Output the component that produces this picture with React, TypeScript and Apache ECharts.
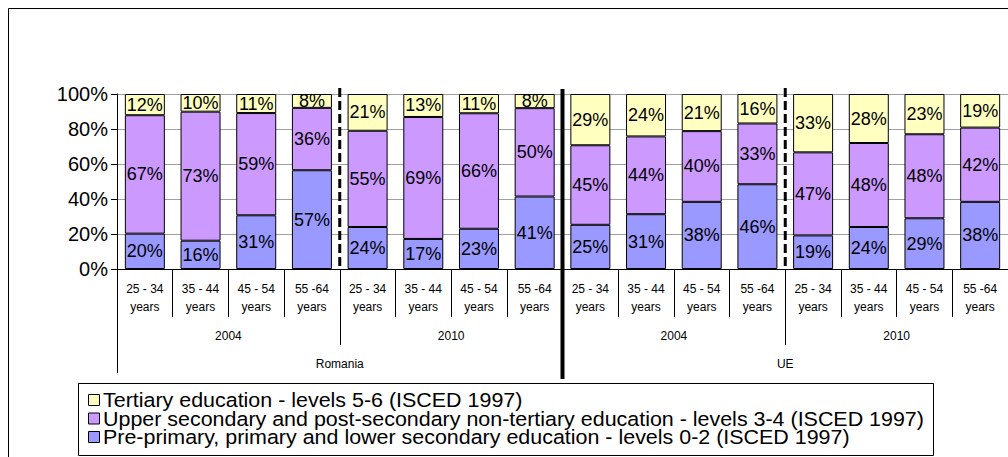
import React, { useEffect, useRef } from "react";
import * as echarts from "echarts";

// Age groups along the bottom axis (four per year block)
const ageLabels = [
  "25 - 34\nyears", "35 - 44\nyears", "45 - 54\nyears", "55 -64\nyears",
  "25 - 34\nyears", "35 - 44\nyears", "45 - 54\nyears", "55 -64\nyears",
  "25 - 34\nyears", "35 - 44\nyears", "45 - 54\nyears", "55 -64\nyears",
  "25 - 34\nyears", "35 - 44\nyears", "45 - 54\nyears", "55 -64\nyears",
];
const yearLabels = ["2004", "2010", "2004", "2010"];
const regionLabels = ["Romania", "UE"];

// Educational attainment shares (%), per age group
const tertiary = [12, 10, 11, 8, 21, 13, 11, 8, 29, 24, 21, 16, 33, 28, 23, 19];
const upperSecondary = [67, 73, 59, 36, 55, 69, 66, 50, 45, 44, 40, 33, 47, 48, 48, 42];
const lowerSecondary = [20, 16, 31, 57, 24, 17, 23, 41, 25, 31, 38, 46, 19, 24, 29, 38];

const yTicks = [0, 20, 40, 60, 80, 100];

const NAME_TERTIARY = "Tertiary education - levels 5-6 (ISCED 1997)";
const NAME_UPPER =
  "Upper secondary and post-secondary non-tertiary education - levels 3-4 (ISCED 1997)";
const NAME_LOWER =
  "Pre-primary, primary and lower secondary education - levels 0-2 (ISCED 1997)";

const COLOR_TERTIARY = "#FFFFC0";
const COLOR_UPPER = "#CC99FF";
const COLOR_LOWER = "#9999FF";

const FONT = "'Liberation Sans', Arial, sans-serif";

export default function App() {
  const ref = useRef<HTMLDivElement>(null);

  useEffect(() => {
    if (!ref.current) return;
    const chart = echarts.init(ref.current, undefined, { renderer: "svg" });

    // 100% stacked: each column is scaled by its own total
    const totals = tertiary.map((t, i) => t + upperSecondary[i] + lowerSecondary[i]);

    const makeSeries = (name: string, values: number[], color: string) => ({
      name,
      type: "bar",
      stack: "education",
      barWidth: 40,
      xAxisIndex: 0,
      data: values.map((v, i) => (v / totals[i]) * 100),
      itemStyle: { color, borderColor: "#000", borderWidth: 1 },
      label: {
        show: true,
        position: "inside",
        color: "#000",
        fontSize: 18,
        fontFamily: FONT,
        formatter: (p: any) => `${values[p.dataIndex]}%`,
      },
    });

    const axisBase = {
      type: "category",
      position: "bottom",
      gridIndex: 0,
      splitLine: { show: false },
    };

    chart.setOption({
      animation: false,
      backgroundColor: "#fff",
      grid: { left: 117, right: 0, top: 94, bottom: 188, containLabel: false },
      xAxis: [
        {
          ...axisBase,
          data: ageLabels,
          axisLine: { show: true, lineStyle: { color: "#000", width: 1 } },
          axisTick: { show: true, length: 48, lineStyle: { color: "#000" } },
          axisLabel: {
            interval: 0,
            margin: 11,
            fontSize: 12,
            lineHeight: 18,
            color: "#000",
            fontFamily: FONT,
          },
        },
        {
          ...axisBase,
          data: yearLabels,
          axisLine: { show: false },
          axisTick: { show: true, length: 76, lineStyle: { color: "#000" } },
          axisLabel: { interval: 0, margin: 61, fontSize: 12, color: "#000", fontFamily: FONT },
        },
        {
          ...axisBase,
          data: regionLabels,
          axisLine: { show: false },
          axisTick: { show: true, length: 104, lineStyle: { color: "#000" } },
          axisLabel: { interval: 0, margin: 89, fontSize: 12, color: "#000", fontFamily: FONT },
        },
      ],
      yAxis: {
        type: "value",
        min: yTicks[0],
        max: yTicks[yTicks.length - 1],
        interval: yTicks[1] - yTicks[0],
        axisLine: { show: true, lineStyle: { color: "#000", width: 1 } },
        axisTick: { show: true, length: 6, lineStyle: { color: "#000" } },
        axisLabel: {
          formatter: "{value}%",
          fontSize: 20,
          margin: 9,
          color: "#000",
          fontFamily: FONT,
        },
        splitLine: { show: true, lineStyle: { color: "#a0a0a0", width: 1 } },
      },
      series: [
        makeSeries(NAME_LOWER, lowerSecondary, COLOR_LOWER),
        makeSeries(NAME_UPPER, upperSecondary, COLOR_UPPER),
        makeSeries(NAME_TERTIARY, tertiary, COLOR_TERTIARY),
      ],
    });

    // Block separators sit between the 4th/5th, 8th/9th and 12th/13th columns
    const boundaryX = (k: number) => {
      const a = chart.convertToPixel({ xAxisIndex: 0 }, k - 1) as number;
      const b = chart.convertToPixel({ xAxisIndex: 0 }, k) as number;
      return (a + b) / 2;
    };
    const yTop = chart.convertToPixel({ yAxisIndex: 0 }, 100) as number;
    const yZero = chart.convertToPixel({ yAxisIndex: 0 }, 0) as number;

    const dashed = (x: number) => ({
      type: "line",
      silent: true,
      z: 50,
      shape: { x1: x, y1: yTop - 6, x2: x, y2: yZero },
      style: { stroke: "#000", lineWidth: 3, lineDash: [9, 4] },
    });

    const xMid = boundaryX(8);

    // Boxed legend with wide, tightly stacked entries
    const legendEntries = [
      { name: NAME_TERTIARY, color: COLOR_TERTIARY },
      { name: NAME_UPPER, color: COLOR_UPPER },
      { name: NAME_LOWER, color: COLOR_LOWER },
    ];
    const legendLeft = 78;
    const legendTop = 383;
    const rowPitch = 18.5;
    const firstRow = 17;
    const legendChildren: any[] = [
      {
        type: "rect",
        shape: { x: 0.5, y: 0.5, width: 855, height: 72 },
        style: { fill: "#fff", stroke: "#000", lineWidth: 1 },
      },
    ];
    legendEntries.forEach((e, i) => {
      const cy = firstRow + i * rowPitch;
      legendChildren.push({
        type: "rect",
        shape: { x: 10.5, y: cy - 5.5, width: 11, height: 11 },
        style: { fill: e.color, stroke: "#000", lineWidth: 1 },
      });
      legendChildren.push({
        type: "text",
        x: 25,
        y: cy,
        scaleX: 1.1,
        style: {
          text: e.name,
          fontSize: 19.5,
          fontFamily: FONT,
          fill: "#000",
          verticalAlign: "middle",
          align: "left",
        },
      });
    });

    chart.setOption({
      graphic: [
        {
          type: "rect",
          silent: true,
          z: -1,
          shape: { x: 8.5, y: 8.5, width: 1200, height: 700 },
          style: { fill: "none", stroke: "#000", lineWidth: 1 },
        },
        dashed(boundaryX(4)),
        dashed(boundaryX(12)),
        {
          type: "line",
          silent: true,
          z: 50,
          shape: { x1: xMid, y1: yTop - 5, x2: xMid, y2: yZero + 110 },
          style: { stroke: "#000", lineWidth: 4 },
        },
        {
          type: "group",
          silent: true,
          z: 60,
          x: legendLeft,
          y: legendTop,
          children: legendChildren,
        },
      ],
    });

    return () => chart.dispose();
  }, []);

  return (
    <div
      ref={ref}
      style={{
        position: "fixed",
        left: 0,
        top: 0,
        width: 1008,
        height: 457,
        background: "#fff",
      }}
    />
  );
}
